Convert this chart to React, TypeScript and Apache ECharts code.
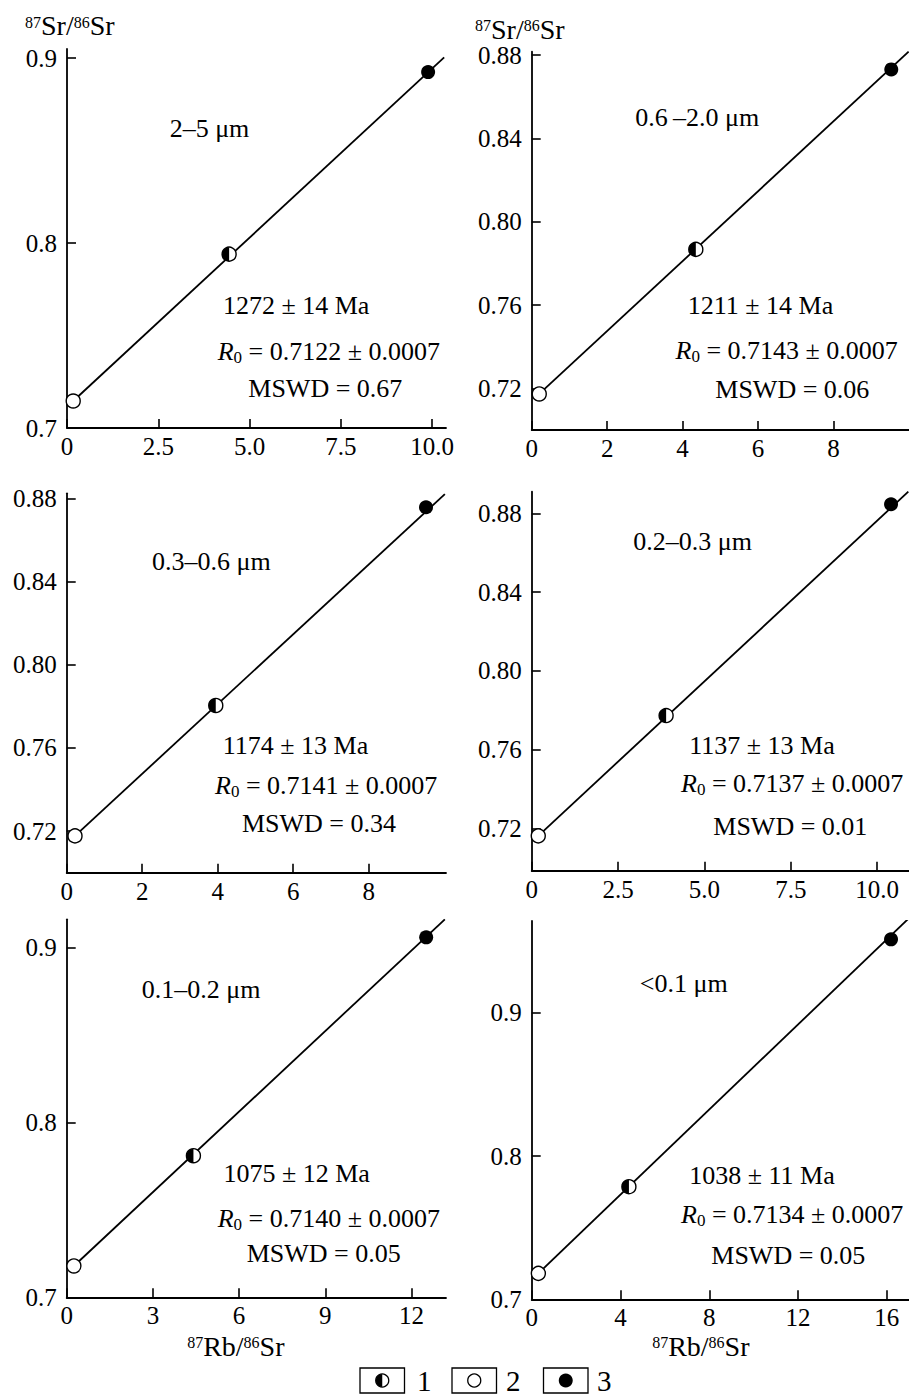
import React, { useEffect, useRef } from 'react';
import * as echarts from 'echarts';

const FONT = "'Liberation Serif', 'Times New Roman', serif";

// ---------- data ----------
const sizeFractions = ['2–5 μm', '0.6\u2009–2.0 μm', '0.3–0.6 μm', '0.2–0.3 μm', '0.1–0.2 μm', '<0.1 μm'];
const ages = ['1272 ± 14 Ma', '1211 ± 14 Ma', '1174 ± 13 Ma', '1137 ± 13 Ma', '1075 ± 12 Ma', '1038 ± 11 Ma'];
const r0Values = ['0.7122 ± 0.0007', '0.7143 ± 0.0007', '0.7141 ± 0.0007', '0.7137 ± 0.0007', '0.7140 ± 0.0007', '0.7134 ± 0.0007'];
const mswdValues = ['0.67', '0.06', '0.34', '0.01', '0.05', '0.05'];

// type 2 (open), type 1 (half-filled), type 3 (filled)  [87Rb/86Sr, 87Sr/86Sr]
const openPoints = [[0.17, 0.7146], [0.2, 0.7173], [0.22, 0.7177], [0.19, 0.7162], [0.25, 0.7179], [0.3, 0.7181]];
const halfPoints = [[4.44, 0.794], [4.35, 0.7867], [3.95, 0.7804], [3.89, 0.7773], [4.41, 0.7809], [4.38, 0.7786]];
const filledPoints = [[9.89, 0.8924], [9.53, 0.8731], [9.52, 0.8757], [10.4, 0.8846], [12.51, 0.9057], [16.19, 0.9512]];
const isochronEnds = [[10.33, 0.9004], [9.99, 0.8816], [10.02, 0.882], [10.9, 0.891], [13.16, 0.916], [17, 0.966]];

const xMaxes = [10.38, 10, 10.05, 10.92, 13.2, 17];
const yMins = [0.7, 0.7, 0.7, 0.6985, 0.7, 0.7];
const yMaxes = [0.9049, 0.8816, 0.8824, 0.891, 0.916, 0.964];
const xTicks = [[0, 2.5, 5, 7.5, 10], [0, 2, 4, 6, 8], [0, 2, 4, 6, 8], [0, 2.5, 5, 7.5, 10], [0, 3, 6, 9, 12], [0, 4, 8, 12, 16]];
const yTicks = [[0.7, 0.8, 0.9], [0.72, 0.76, 0.8, 0.84, 0.88], [0.72, 0.76, 0.8, 0.84, 0.88], [0.72, 0.76, 0.8, 0.84, 0.88], [0.7, 0.8, 0.9], [0.7, 0.8, 0.9]];
const xDecimals = [1, 0, 0, 1, 0, 0];
const yDecimals = [1, 2, 2, 2, 1, 1];
const legendLabels = ['1', '2', '3'];

// ---------- layout ----------
const GRIDS = [
  { left: 67, top: 49, width: 379, height: 379 },
  { left: 531.7, top: 51.7, width: 377.3, height: 378.3 },
  { left: 66.7, top: 493.3, width: 379.3, height: 379.4 },
  { left: 531.7, top: 491.7, width: 377.3, height: 379 },
  { left: 66.7, top: 919.3, width: 379.3, height: 378 },
  { left: 531.7, top: 921, width: 377.3, height: 378.3 },
];
const ANN = [
  { label: [209.5, 128], age: [296.2, 305], r0: [328.8, 351], mswd: [325.3, 388] },
  { label: [697.2, 117], age: [760.5, 305], r0: [786.7, 350], mswd: [792.3, 389] },
  { label: [211.3, 561.7], age: [295.5, 745], r0: [326.2, 785], mswd: [319, 823] },
  { label: [692.7, 541.7], age: [762, 745], r0: [792.2, 783.3], mswd: [790.3, 826.7] },
  { label: [201.2, 989], age: [296.7, 1173.7], r0: [328.8, 1218], mswd: [323.7, 1253] },
  { label: [683.7, 983.3], age: [762, 1175.8], r0: [792.2, 1214], mswd: [788.3, 1255.8] },
];
const Y_TITLES = [[25, 25.5], [475, 29]];
const X_TITLES = [[235.8, 1346], [700.8, 1346]];

const HALF_PATH = 'path://M10,0 C4.477,0 0,4.477 0,10 C0,15.523 4.477,20 10,20 Z';
const SYM = 14;
const ANN_SIZE = 26;
const TITLE_SIZE = 28;
const SUP_SIZE = 16;

function supRich(main: number, sup: number) {
  return {
    s: { fontSize: sup, fontFamily: FONT, fill: '#000', lineHeight: 17, verticalAlign: 'top' },
    n: { fontSize: main, fontFamily: FONT, fill: '#000', lineHeight: 23 },
  };
}

export default function App() {
  const ref = useRef<HTMLDivElement>(null);
  useEffect(() => {
    if (!ref.current) return;
    const chart = echarts.init(ref.current, undefined, { renderer: 'svg' });

    const grid = GRIDS.map((g) => ({ ...g, containLabel: false }));
    const axisLine = { show: true, onZero: false, lineStyle: { color: '#000', width: 1.8 } };
    const axisTickBase = { show: true, inside: true, length: 9, lineStyle: { color: '#000', width: 1.6 } };
    const labelBase = { color: '#000', fontSize: 25, fontFamily: FONT };

    const xAxis = GRIDS.map((_, i) => ({
      type: 'value',
      gridIndex: i,
      min: 0,
      max: xMaxes[i],
      axisLine,
      axisTick: { ...axisTickBase, customValues: xTicks[i] },
      axisLabel: {
        ...labelBase,
        margin: 6,
        customValues: xTicks[i],
        formatter: (v: number) => (v === 0 ? '0' : v.toFixed(xDecimals[i])),
      },
      splitLine: { show: false },
    }));
    const yAxis = GRIDS.map((_, i) => ({
      type: 'value',
      gridIndex: i,
      min: yMins[i],
      max: yMaxes[i],
      axisLine,
      axisTick: { ...axisTickBase, customValues: yTicks[i] },
      axisLabel: {
        ...labelBase,
        margin: 10,
        customValues: yTicks[i],
        formatter: (v: number) => v.toFixed(yDecimals[i]),
      },
      splitLine: { show: false },
    }));

    const series: any[] = [];
    GRIDS.forEach((_, i) => {
      series.push({
        type: 'line',
        xAxisIndex: i,
        yAxisIndex: i,
        data: [openPoints[i], isochronEnds[i]],
        symbol: 'none',
        lineStyle: { color: '#000', width: 1.8 },
        z: 1,
      });
      series.push({
        type: 'scatter',
        xAxisIndex: i,
        yAxisIndex: i,
        data: [openPoints[i], halfPoints[i]],
        symbol: 'circle',
        symbolSize: SYM,
        itemStyle: { color: '#fff', borderColor: '#000', borderWidth: 1.4, opacity: 1 },
        clip: false,
        z: 2,
      });
      series.push({
        type: 'scatter',
        xAxisIndex: i,
        yAxisIndex: i,
        data: [halfPoints[i]],
        symbol: HALF_PATH,
        symbolSize: [SYM / 2, SYM],
        symbolOffset: [-SYM / 4, 0],
        itemStyle: { color: '#000', opacity: 1 },
        clip: false,
        z: 3,
      });
      series.push({
        type: 'scatter',
        xAxisIndex: i,
        yAxisIndex: i,
        data: [filledPoints[i]],
        symbol: 'circle',
        symbolSize: SYM,
        itemStyle: { color: '#000', opacity: 1 },
        clip: false,
        z: 3,
      });
    });

    const graphics: any[] = [];
    const plain = (text: string, x: number, y: number) => ({
      type: 'text',
      x,
      y,
      silent: true,
      style: { text, fontSize: ANN_SIZE, fontFamily: FONT, fill: '#000', align: 'center', verticalAlign: 'middle' },
    });
    ANN.forEach((a, i) => {
      graphics.push(plain(sizeFractions[i], a.label[0], a.label[1]));
      graphics.push(plain(ages[i], a.age[0], a.age[1]));
      graphics.push({
        type: 'text',
        x: a.r0[0],
        y: a.r0[1],
        silent: true,
        style: {
          text: `{i|R}{b|0}{n| = ${r0Values[i]}}`,
          align: 'center',
          verticalAlign: 'middle',
          fontSize: ANN_SIZE,
          fontFamily: FONT,
          fill: '#000',
          rich: {
            i: { fontSize: ANN_SIZE, fontFamily: FONT, fontStyle: 'italic', fill: '#000', lineHeight: 30 },
            b: { fontSize: 17, fontFamily: FONT, fill: '#000', lineHeight: 12, verticalAlign: 'bottom' },
            n: { fontSize: ANN_SIZE, fontFamily: FONT, fill: '#000', lineHeight: 30 },
          },
        },
      });
      graphics.push(plain(`MSWD = ${mswdValues[i]}`, a.mswd[0], a.mswd[1]));
    });

    Y_TITLES.forEach(([x, y]) => {
      graphics.push({
        type: 'text',
        x,
        y,
        silent: true,
        style: {
          text: '{s|87}{n|Sr/}{s|86}{n|Sr}',
          align: 'left',
          verticalAlign: 'middle',
          fontSize: TITLE_SIZE,
          fontFamily: FONT,
          fill: '#000',
          rich: supRich(TITLE_SIZE, SUP_SIZE),
        },
      });
    });
    X_TITLES.forEach(([x, y]) => {
      graphics.push({
        type: 'text',
        x,
        y,
        silent: true,
        style: {
          text: '{s|87}{n|Rb/}{s|86}{n|Sr}',
          align: 'center',
          verticalAlign: 'middle',
          fontSize: TITLE_SIZE,
          fontFamily: FONT,
          fill: '#000',
          rich: supRich(TITLE_SIZE, SUP_SIZE),
        },
      });
    });

    // legend
    const boxes = [360, 452, 543.5];
    const labelsX = [417, 506, 597];
    const boxW = 44.5;
    const boxTop = 1368;
    const boxH = 25;
    boxes.forEach((bx, k) => {
      graphics.push({
        type: 'rect',
        silent: true,
        shape: { x: bx, y: boxTop, width: boxW, height: boxH },
        style: { fill: '#fff', stroke: '#000', lineWidth: 1.3 },
      });
      const cx = bx + boxW / 2;
      const cy = boxTop + boxH / 2;
      if (k === 0) {
        graphics.push({
          type: 'circle',
          silent: true,
          shape: { cx, cy, r: 6.5 },
          style: { fill: '#fff', stroke: '#000', lineWidth: 1.3 },
        });
        graphics.push({
          type: 'sector',
          silent: true,
          shape: { cx, cy, r: 6.5, r0: 0, startAngle: Math.PI / 2, endAngle: (3 * Math.PI) / 2, clockwise: true },
          style: { fill: '#000' },
        });
      } else if (k === 1) {
        graphics.push({
          type: 'circle',
          silent: true,
          shape: { cx, cy, r: 6.5 },
          style: { fill: '#fff', stroke: '#000', lineWidth: 1.3 },
        });
      } else {
        graphics.push({
          type: 'circle',
          silent: true,
          shape: { cx, cy, r: 7 },
          style: { fill: '#000' },
        });
      }
      graphics.push({
        type: 'text',
        silent: true,
        x: labelsX[k],
        y: cy,
        style: { text: legendLabels[k], fontSize: 29, fontFamily: FONT, fill: '#000', align: 'left', verticalAlign: 'middle' },
      });
    });

    chart.setOption({
      animation: false,
      backgroundColor: '#fff',
      grid,
      xAxis,
      yAxis,
      series,
      graphic: { elements: graphics },
    });
    return () => chart.dispose();
  }, []);

  return (
    <div
      ref={ref}
      style={{ position: 'absolute', left: 0, top: 0, width: 909, height: 1395, background: '#fff' }}
    />
  );
}
